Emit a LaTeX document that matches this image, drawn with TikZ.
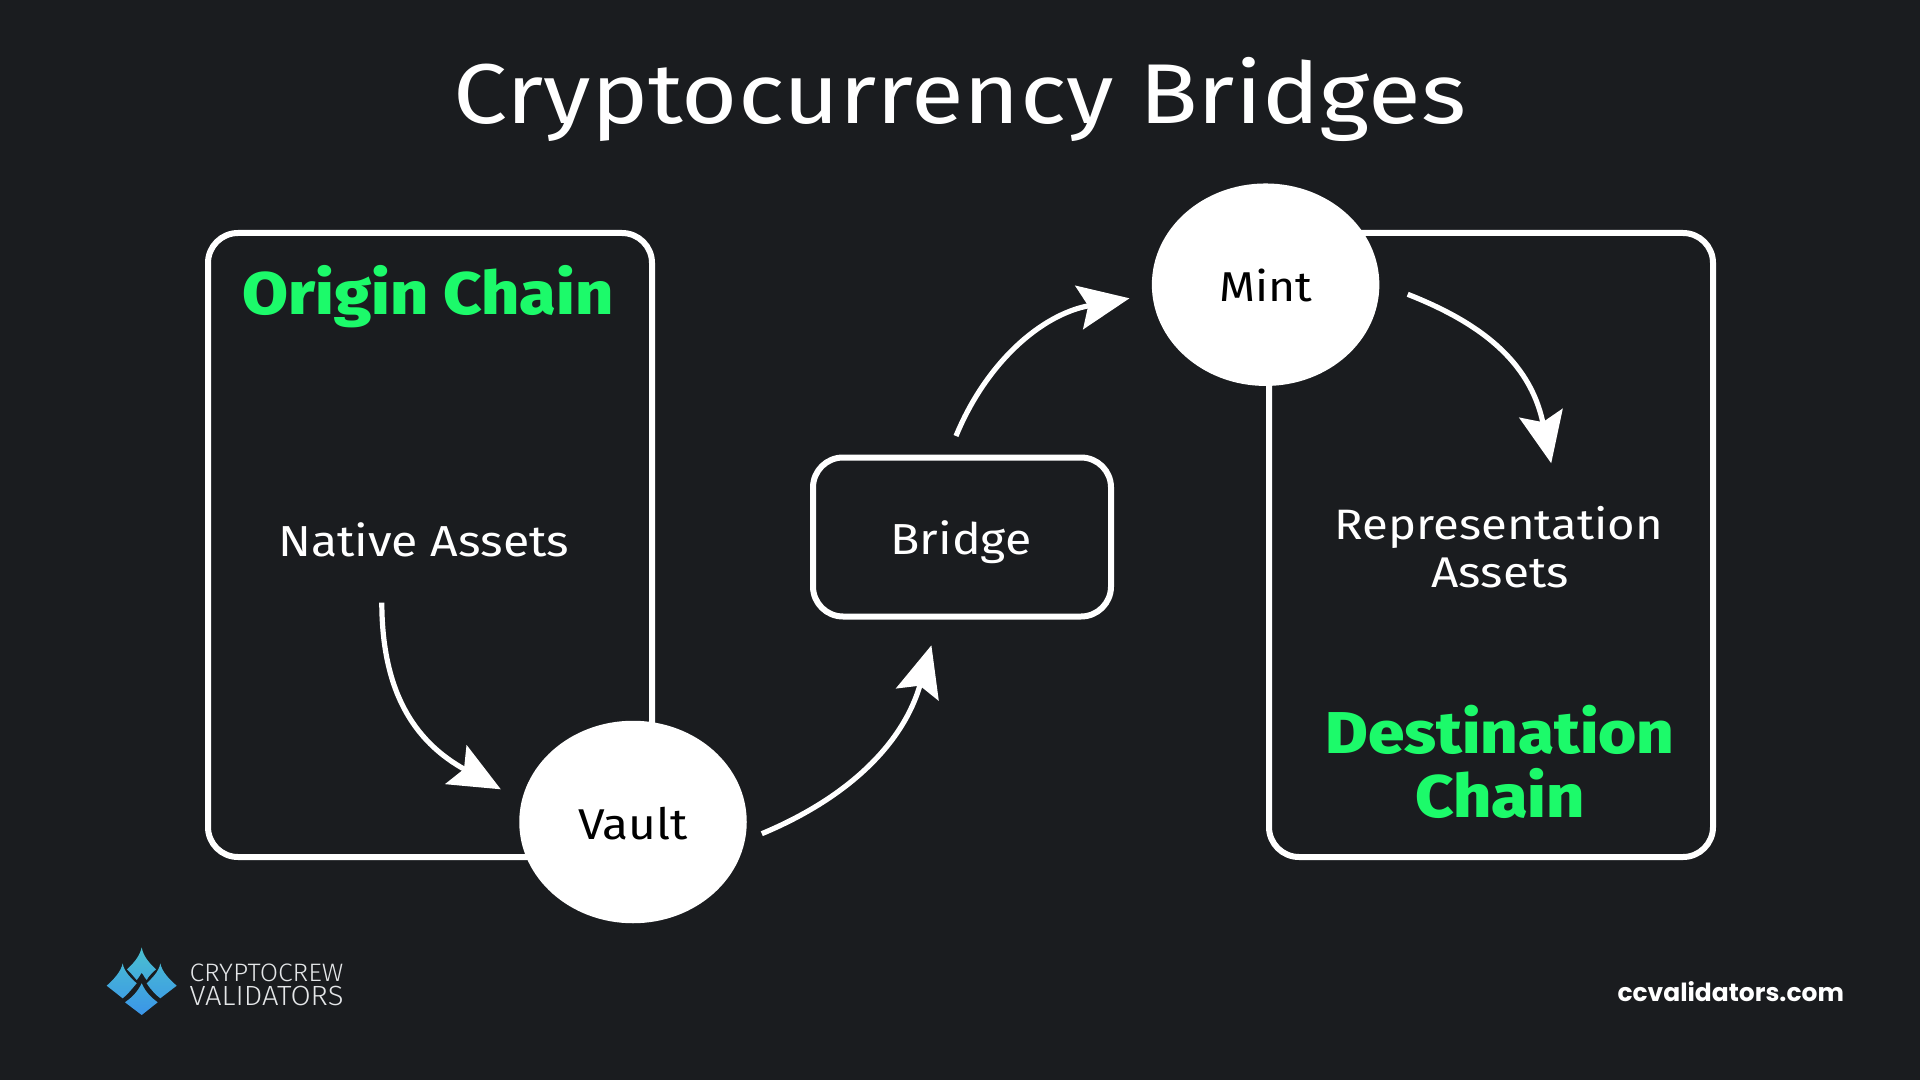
\documentclass[tikz,border=0pt]{standalone}
\usepackage{graphicx}
\usepackage{fontspec}
\setmainfont{Fira Sans}
\newfontfamily\logofont{Fira Sans Light}
\newfontfamily\heavyfont{Fira Sans ExtraBold}
\newfontfamily\urlfont{Poppins}
\usetikzlibrary{shapes.geometric,arrows.meta}
\definecolor{bgdark}{HTML}{1A1C1F}
\definecolor{chaingreen}{HTML}{1CFA6A}
\definecolor{logotop}{HTML}{4AC0D0}
\definecolor{logobot}{HTML}{3B95E8}
\definecolor{logotext}{HTML}{E4E6E8}
\newcommand{\fitw}[3][0.9]{\scalebox{1}[#1]{\resizebox{#2pt}{!}{#3}}}
\tikzset{
  panel/.style={draw=white,line width=3pt,rounded corners=15pt,fill=none,inner sep=0pt},
  blob/.style={ellipse,fill=white,text=black,inner sep=0pt,minimum width=227.5pt*0.5,minimum height=202.5pt*0.5},
  lbl/.style={text=white,anchor=base,inner sep=0pt,outer sep=0pt},
  chainlbl/.style={lbl,text=chaingreen,font=\heavyfont},
  flow/.style={draw=white,line width=2.6pt,-{Stealth[length=25.5pt,width=22pt,inset=4.5pt]}}
}
\begin{document}
\begin{tikzpicture}[x=0.5pt,y=-0.5pt]
\useasboundingbox (0,0) rectangle (1920,1080);
\fill[bgdark] (0,0) rectangle (1920,1080);
\node[lbl] (title) at (960,124) {\fitw[0.88]{506}{Cryptocurrency Bridges}};
% panels
\node[panel,minimum width=222pt,minimum height=312pt] (origin) at (430,545) {};
\node[panel,minimum width=222pt,minimum height=312pt] (dest) at (1491,545) {};
\node[panel,minimum width=149pt,minimum height=79.5pt] (bridge) at (962,537) {};
\node[blob] (vault) at (633,822) {\raisebox{-8.5pt}[0pt][0pt]{\fitw{55}{Vault}}};
\node[blob] (mint) at (1265.6,284.7) {\raisebox{-8.5pt}[0pt][0pt]{\fitw{46.5}{Mint}}};
% labels
\node[chainlbl] (originlbl) at (428,315) {\fitw{185.5}{Origin Chain}};
\node[lbl] (native) at (423.7,556) {\fitw{145.5}{Native Assets}};
\node[lbl] (bridgelbl) at (961,554) {\fitw{70.5}{Bridge}};
\node[lbl] (repr) at (1499,539) {\fitw{164}{Representation}};
\node[lbl] (assets) at (1500,587) {\fitw{68.5}{Assets}};
\node[chainlbl] (destlbl) at (1500,753) {\fitw{174.5}{Destination}};
\node[chainlbl] (chainlbl) at (1500,817) {\fitw{85}{Chain}};
% connectors
\coordinate (a1s) at (381.8,602.7);
\coordinate (a1e) at (500.8,789.3);
\coordinate (a2s) at (761.8,833.7);
\coordinate (a2e) at (931.4,645.3);
\coordinate (a3s) at (956,436);
\coordinate (a3e) at (1129.5,298.3);
\coordinate (a4s) at (1407.7,294.3);
\coordinate (a4e) at (1551.2,463.3);
\draw[flow] (a1s) .. controls (382,690) and (413,741) .. (a1e);
\draw[flow] (a2s) .. controls (852,796) and (904,741) .. (a2e);
\draw[flow] (a3s) .. controls (986,363) and (1041,314.4) .. (a3e);
\draw[flow] (a4s) .. controls (1478,322) and (1530,360) .. (a4e);
% logo
\shade[top color=logotop,bottom color=logobot]
  (141.7,947.3) .. controls (143,956) and (150,964) .. (156,969.3)
  .. controls (152,973) and (148,977) .. (146.7,980)
  .. controls (144,977) and (142.5,973) .. (141.7,973)
  .. controls (141,973) and (139.5,977) .. (136.7,980)
  .. controls (134,977) and (131,973) .. (127,969.3)
  .. controls (133,964) and (140,956) .. (141.7,947.3) -- cycle
  (122.7,963.3) .. controls (124,972) and (132,979) .. (136.7,983.3)
  .. controls (131,990) and (127,995) .. (122.7,998.3)
  -- (106.7,985.7) .. controls (113,980) and (121,972) .. (122.7,963.3) -- cycle
  (160.3,963.3) .. controls (162,972) and (170,980) .. (176.7,985.7)
  -- (160.3,998.3) .. controls (156,995) and (151,990) .. (146.7,983.3)
  .. controls (151,979) and (159,972) .. (160.3,963.3) -- cycle
  (141.7,983.3) .. controls (146,993) and (152,998) .. (157.7,1002.3)
  -- (141.7,1015) -- (125,1002.3)
  .. controls (131,998) and (137,993) .. (141.7,983.3) -- cycle;
\node[lbl,text=logotext,font=\logofont,anchor=base west] (logoa) at (189.5,981.7) {\fitw[0.95]{77}{CRYPTOCREW}};
\node[lbl,text=logotext,font=\logofont,anchor=base west] (logob) at (189.5,1005) {\fitw[0.95]{77}{VALIDATORS}};
\node[lbl,font=\urlfont\bfseries] (url) at (1730.7,1001.6) {\fitw[1]{113.2}{ccvalidators.com}};
\end{tikzpicture}
\end{document}
